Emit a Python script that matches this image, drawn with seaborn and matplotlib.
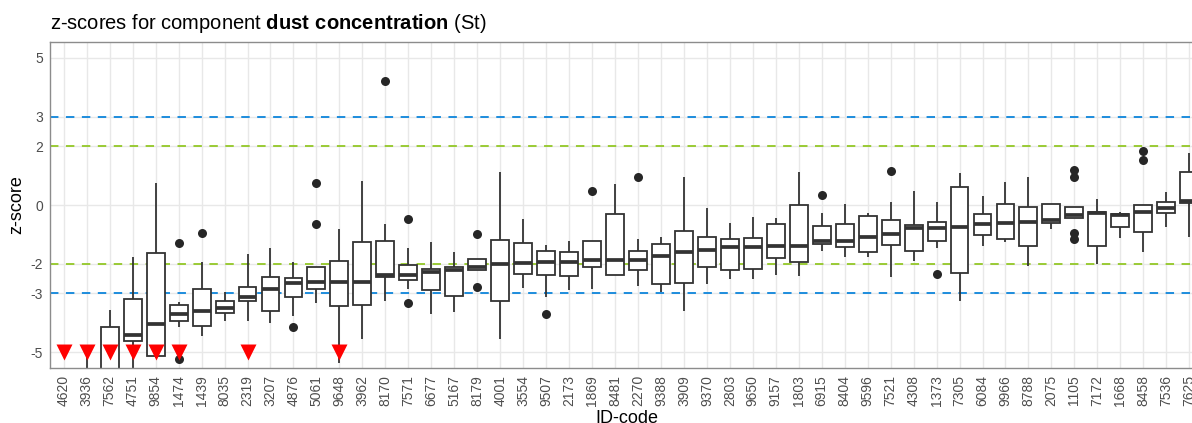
import numpy as np
import pandas as pd
import matplotlib
matplotlib.use('Agg')
import matplotlib.pyplot as plt
import seaborn as sns

# --- data ---
ids = ['4620', '3936', '7562', '4751', '9854', '1474', '1439', '8035', '2319', '3207',
       '4876', '5061', '9648', '3962', '8170', '7571', '6677', '5167', '8179', '4001',
       '3554', '9507', '2173', '1869', '8481', '2270', '9388', '3909', '9370', '2803',
       '9650', '9157', '1803', '6915', '8404', '9596', '7521', '4308', '1373', '7305',
       '6084', '9966', '8788', '2075', '1105', '7172', '1668', '8458', '7536', '7625']

# whisker low / q1 / median / q3 / whisker high
lo = [-7.5, -7.5, -7.5, -6.5, -5.2, -4.15, -4.44, -3.95, -3.93, -4.01,
      -3.75, -3.33, -5.37, -4.54, -3.25, -2.86, -3.71, -3.64, -2.20, -4.54,
      -2.82, -3.11, -2.88, -2.86, -2.37, -2.75, -2.94, -3.58, -2.69, -2.52,
      -2.52, -2.37, -2.40, -1.55, -1.77, -1.77, -2.43, -1.89, -1.45, -3.25,
      -1.39, -1.24, -2.06, -0.82, -0.43, -2.00, -1.11, -1.58, -0.76, -1.10]
q1 = [-7.0, -7.0, -6.8, -4.63, -5.12, -3.93, -4.12, -3.67, -3.24, -3.59,
      -3.13, -2.85, -3.43, -3.39, -2.45, -2.54, -2.90, -3.08, -2.20, -3.27,
      -2.35, -2.38, -2.40, -2.09, -2.37, -2.19, -2.68, -2.63, -2.09, -2.20,
      -2.18, -1.81, -1.94, -1.32, -1.44, -1.59, -1.37, -1.55, -1.21, -2.32,
      -1.02, -1.14, -1.38, -0.62, -0.43, -1.39, -0.76, -0.93, -0.28, 0.06]
med = [-6.8, -6.5, -6.0, -4.41, -4.03, -3.69, -3.59, -3.48, -3.11, -2.85,
       -2.66, -2.60, -2.60, -2.60, -2.37, -2.37, -2.28, -2.20, -2.09, -2.01,
       -1.98, -1.95, -1.93, -1.86, -1.86, -1.85, -1.73, -1.60, -1.53, -1.41,
       -1.41, -1.39, -1.39, -1.22, -1.22, -1.07, -0.99, -0.77, -0.79, -0.75,
       -0.66, -0.60, -0.58, -0.51, -0.34, -0.28, -0.34, -0.25, -0.11, 0.15]
q3 = [-6.5, -6.0, -4.15, -3.20, -1.64, -3.39, -2.85, -3.25, -2.77, -2.43,
      -2.46, -2.12, -1.90, -1.24, -1.23, -2.05, -2.18, -2.10, -1.84, -1.19,
      -1.28, -1.56, -1.59, -1.22, -0.32, -1.56, -1.32, -0.87, -1.10, -1.16,
      -1.11, -0.64, 0.00, -0.71, -0.66, -0.37, -0.52, -0.68, -0.58, 0.61,
      -0.32, 0.03, -0.06, 0.05, -0.06, -0.24, -0.31, 0.01, 0.09, 1.11]
hi = [-6.0, -5.1, -3.56, -1.77, 0.76, -3.28, -1.92, -2.94, -1.67, -1.47,
      -1.92, -2.12, -0.81, 0.81, -0.64, -1.45, -1.24, -1.58, -1.84, 1.11,
      -0.49, -1.36, -1.22, -1.22, 0.71, -1.16, -1.10, 0.96, -0.09, -0.60,
      -0.40, -0.45, 1.13, -0.28, 0.02, -0.26, 0.09, 0.49, 0.09, 1.10,
      0.32, 0.79, 0.96, 0.05, -0.06, 0.21, -0.23, 0.01, 0.43, 1.77]

outlier_ids = ['1474', '1474', '1439', '4876', '5061', '5061', '8170', '7571', '7571',
               '8179', '8179', '9507', '1869', '2270', '6915', '7521', '1373',
               '1105', '1105', '1105', '1105', '8458', '8458']
outlier_z = [-1.30, -5.23, -0.94, -4.15, 0.73, -0.64, 4.20, -0.47, -3.33,
             -0.99, -2.77, -3.69, 0.47, 0.96, 0.34, 1.15, -2.34,
             1.19, 0.94, -0.96, -1.15, 1.83, 1.53]

# labs below the plotted range
flag_ids = ['4620', '3936', '7562', '4751', '9854', '1474', '2319', '9648']
flag_z = [-5, -5, -5, -5, -5, -5, -5, -5]

y_ticks = [5, 3, 2, 0, -2, -3, -5]

# --- long table for seaborn ---
rows = []
for i, code in enumerate(ids):
    for v in (lo[i], q1[i], med[i], q3[i], hi[i]):
        rows.append({'id': code, 'z': v})
df_box = pd.DataFrame(rows)
df_out = pd.DataFrame({'id': outlier_ids, 'z': outlier_z})
df_flag = pd.DataFrame({'id': flag_ids, 'z': flag_z})

# --- style ---
sns.set_theme(style='whitegrid')
plt.rcParams['font.family'] = ['Liberation Sans', 'DejaVu Sans']
plt.rcParams['mathtext.fontset'] = 'custom'
plt.rcParams['mathtext.rm'] = 'Liberation Sans'
plt.rcParams['mathtext.bf'] = 'Liberation Sans:bold'

W, H = 1192, 423
fig = plt.figure(figsize=(W / 100, H / 100), dpi=100)
# panel runs a little past the right edge, like the reference crop
ax = fig.add_axes([50 / W, 1 - 368 / H, (1203 - 50) / W, (368 - 42) / H])

sns.boxplot(data=df_box, x='id', y='z', order=ids, whis=np.inf, width=0.78,
            color='white', linecolor='#333333', linewidth=1.3, showcaps=False,
            medianprops=dict(linewidth=2.7), ax=ax)
sns.stripplot(data=df_out, x='id', y='z', order=ids, jitter=False,
              color='#262626', size=6.5, ax=ax, zorder=4)
sns.stripplot(data=df_flag, x='id', y='z', order=ids, jitter=False,
              color='red', marker='v', size=11.5, linewidth=0, ax=ax, zorder=5)

# reference lines
for yv, col in [(3, '#1589dc'), (-3, '#1589dc'), (2, '#96c92e'), (-2, '#96c92e')]:
    ax.axhline(yv, color=col, linestyle=(0, (4.5, 4)), linewidth=1.35, zorder=1.5)

ax.set_xlim(-0.6, 49.6)
ax.set_ylim(-5.53, 5.53)
ax.set_yticks(y_ticks)
ax.set_yticklabels([str(t) for t in y_ticks])
ax.tick_params(axis='x', rotation=90)
ax.tick_params(length=3, width=0.8, color='#333333', pad=2,
               labelsize=10, labelcolor='#4d4d4d')

ax.grid(True, color='#e8e8e8', linewidth=1.0)
ax.set_axisbelow(True)
for sp in ax.spines.values():
    sp.set_visible(True)
    sp.set_color('#8c8c8c')
    sp.set_linewidth(1.0)

ax.set_xlabel('ID-code', fontsize=13, labelpad=3, color='black')
ax.set_ylabel('z-score', fontsize=13, labelpad=4, color='black')

fig.text(50 / W, 1 - 29 / H,
         r'z-scores for component $\mathbf{dust\ concentration}$ (St)',
         fontsize=14.5, ha='left', va='baseline', color='black')

fig.savefig('out.png', dpi=100)
